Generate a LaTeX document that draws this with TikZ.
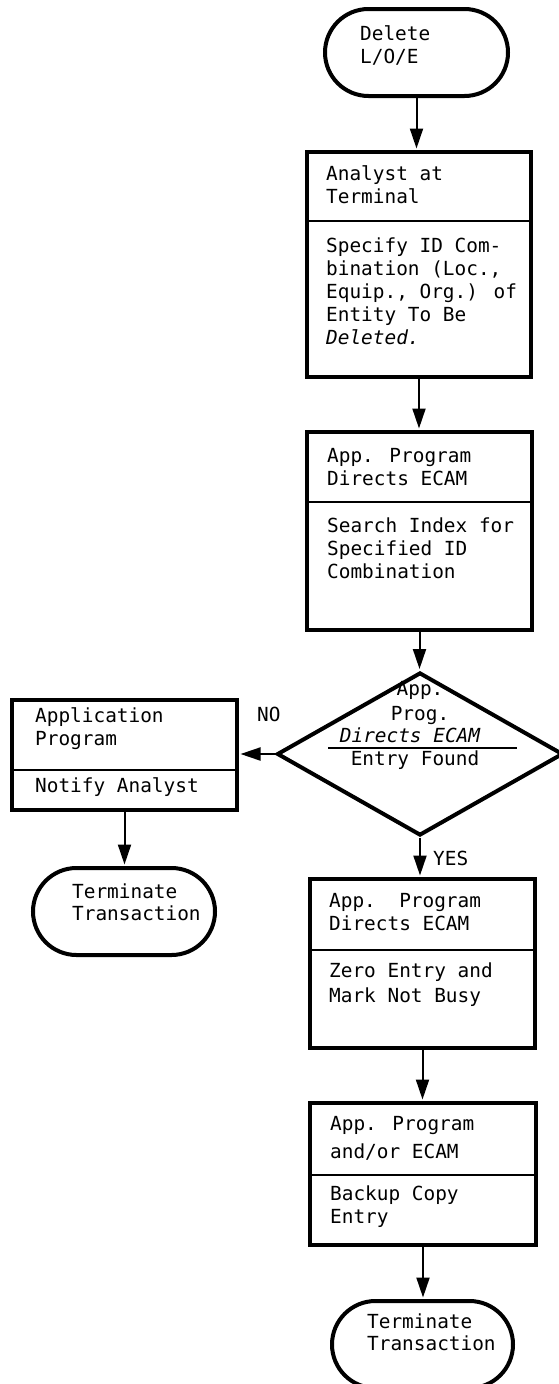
\documentclass[tikz,border=0pt]{standalone}
\usepackage{fontspec}
\newfontfamily\tw{DejaVu Sans Mono}
\usetikzlibrary{shapes.geometric,shapes.misc,arrows.meta,calc}
\newcommand{\mlines}[2]{\vtop{\baselineskip=#1pt\lineskiplimit=-30pt\halign{##\hfil\cr#2\crcr}}}
\begin{document}
\begin{tikzpicture}[x=1pt,y=-1pt,
  pbox/.style={draw, line width=4pt, inner sep=0pt, rectangle},
  term/.style={draw, line width=4pt, inner sep=0pt, rounded rectangle},
  dec/.style={draw, line width=4pt, inner sep=0pt, diamond},
  divline/.style={line width=2.5pt},
  arr/.style={line width=2pt, -{Triangle[length=20pt,width=13pt]}, shorten >=1.5pt},
  txt/.style={inner sep=0pt, anchor=base west, font=\tw\fontsize{19.4}{23}\selectfont},
  ctxt/.style={inner sep=0pt, anchor=base, font=\tw\fontsize{19.4}{23}\selectfont}]
\useasboundingbox (0,0) rectangle (559,1384);

% start terminal
\node[term, minimum width=183pt, minimum height=87pt] (start) at (416.5,52.5) {};
\node[txt] (tstart) at (360,40) {\mlines{23}{Delete\cr L/O/E}};

% box 1
\node[pbox, minimum width=224pt, minimum height=225pt] (b1) at (419,264.5) {};
\draw[divline] (b1.west |- 0,221) -- (b1.east |- 0,221);
\node[txt] (t1a) at (326,180) {\mlines{23}{Analyst at\cr Terminal}};
\node[txt] (t1b) at (326,252) {\mlines{23}{Specify ID Com-\cr bination (Loc.,\cr Equip., Org.) of\cr Entity To Be\cr \itshape Deleted.}};

% box 2
\node[pbox, minimum width=225pt, minimum height=198pt] (b2) at (419.5,531) {};
\draw[divline] (b2.west |- 0,502) -- (b2.east |- 0,502);
\node[txt] (t2a) at (327,462) {\mlines{23}{App. Program\cr Directs ECAM}};
\node[txt] (t2b) at (327,532) {\mlines{23}{Search Index for\cr Specified ID\cr Combination}};

% decision
\node[dec, minimum width=286pt, minimum height=163pt] (dia) at (420,754) {};
\node[ctxt] (td1) at (420,695) {App.};
\node[ctxt] (td2) at (420,720) {Prog.};
\node[ctxt] (td3) at (410,742) {\itshape Directs ECAM};
\draw[line width=1.5pt] (328,748) -- (517,748);
\node[ctxt] (td4) at (415,765) {Entry Found};
\node[txt] (tno) at (257,721) {NO};
\node[txt] (tyes) at (433,865) {YES};

% left box
\node[pbox, minimum width=225pt, minimum height=110pt] (lb) at (124.5,755) {};
\draw[divline] (lb.west |- 0,770) -- (lb.east |- 0,770);
\node[txt] (tla) at (35,722) {\mlines{23}{Application\cr Program}};
\node[txt] (tlb) at (35,792) {Notify Analyst};

% left terminal
\node[term, minimum width=182pt, minimum height=87pt] (lt) at (124,911.5) {};
\node[txt] (tlt) at (72,898) {\mlines{22}{Terminate\cr Transaction}};

% box 3
\node[pbox, minimum width=225pt, minimum height=169pt] (b3) at (422.5,963.5) {};
\draw[divline] (b3.west |- 0,950) -- (b3.east |- 0,950);
\node[txt] (t3a) at (329,907) {\mlines{23}{App.\ \ Program\cr Directs ECAM}};
\node[txt] (t3b) at (329,977) {\mlines{25}{Zero Entry and\cr Mark Not Busy}};

% box 4
\node[pbox, minimum width=226pt, minimum height=142pt] (b4) at (423,1174) {};
\draw[divline] (b4.west |- 0,1175) -- (b4.east |- 0,1175);
\node[txt] (t4a) at (330,1130) {\mlines{28}{App. Program\cr and/or ECAM}};
\node[txt] (t4b) at (330,1200) {\mlines{23}{Backup Copy\cr Entry}};

% end terminal
\node[term, minimum width=181pt, minimum height=87pt] (fin) at (422.5,1344.5) {};
\node[txt] (tfin) at (367,1328) {\mlines{22}{Terminate\cr Transaction}};

% connectors
\draw[arr] (start.south) -- (start.south |- b1.north);
\draw[arr] (b1.south) -- (b1.south |- b2.north);
\draw[arr] (b2.south) -- (b2.south |- dia.north);
\draw[arr] (dia.west) -- (dia.west -| lb.east);
\draw[arr] (lb.south) -- (lb.south |- lt.north);
\draw[arr] (dia.south) -- (dia.south |- b3.north);
\draw[arr] (b3.south) -- (b3.south |- b4.north);
\draw[arr] (b4.south) -- (b4.south |- fin.north);
\end{tikzpicture}
\end{document}
